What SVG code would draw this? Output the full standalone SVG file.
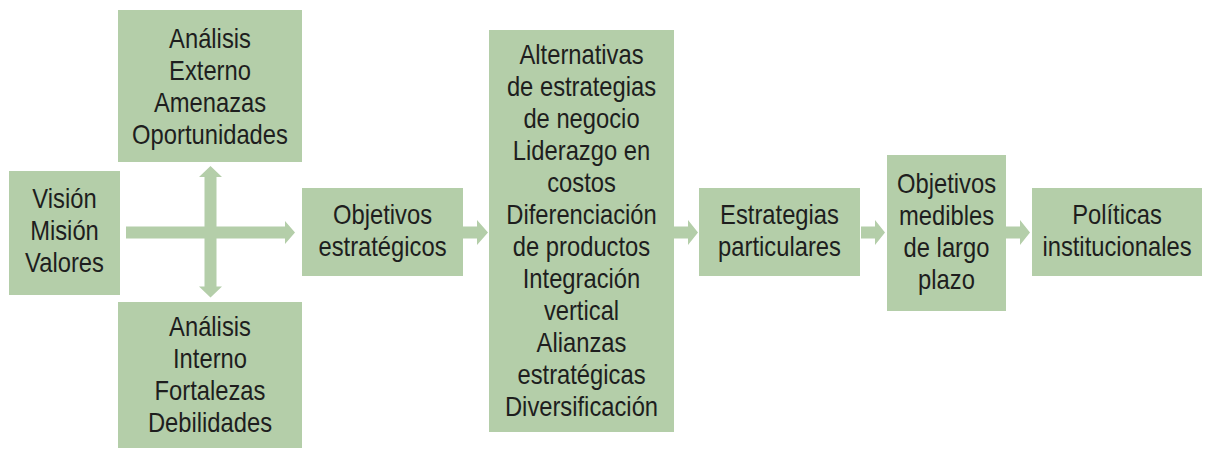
<svg xmlns="http://www.w3.org/2000/svg" width="1211" height="449" viewBox="0 0 1211 449">
<style>
.box{fill:#b4cea9;}
.arr{fill:#b4cea9;}
.t{font-family:"Liberation Sans",Arial,sans-serif;font-size:27px;fill:#1e1e1e;text-anchor:middle;}
</style>
<rect width="1211" height="449" fill="#ffffff"/>
<g id="connectors">
<polygon class="arr" points="126,226.5 285,226.5 285,221 295,232.5 285,244 285,238.5 126,238.5"/>
<polygon class="arr" points="204.5,177 199,177 210.5,166 222,177 216.5,177 216.5,286.5 222,286.5 210.5,297.5 199,286.5 204.5,286.5"/>
<polygon class="arr" points="463,226.5 477,226.5 477,220 488,232.5 477,245 477,238.5 463,238.5"/>
<polygon class="arr" points="674,226.5 688,226.5 688,220 698,232.5 688,245 688,238.5 674,238.5"/>
<polygon class="arr" points="861,226.5 875,226.5 875,220 885,232.5 875,245 875,238.5 861,238.5"/>
<polygon class="arr" points="1006,226.5 1020,226.5 1020,220 1030,232.5 1020,245 1020,238.5 1006,238.5"/>
</g>
<g id="vision">
<rect class="box" x="9" y="171" width="111" height="124"/>
<text class="t" transform="translate(64.5 0) scale(0.88 1)"><tspan x="0" y="208.5">Visión</tspan><tspan x="0" y="240.5">Misión</tspan><tspan x="0" y="272.5">Valores</tspan></text>
</g>
<g id="externo">
<rect class="box" x="118" y="10" width="184" height="152"/>
<text class="t" transform="translate(210 0) scale(0.88 1)"><tspan x="0" y="48">Análisis</tspan><tspan x="0" y="80">Externo</tspan><tspan x="0" y="112">Amenazas</tspan><tspan x="0" y="144">Oportunidades</tspan></text>
</g>
<g id="interno">
<rect class="box" x="118" y="302" width="184" height="146"/>
<text class="t" transform="translate(210 0) scale(0.88 1)"><tspan x="0" y="336">Análisis</tspan><tspan x="0" y="368">Interno</tspan><tspan x="0" y="400">Fortalezas</tspan><tspan x="0" y="432">Debilidades</tspan></text>
</g>
<g id="objetivos">
<rect class="box" x="302" y="188" width="161" height="88"/>
<text class="t" transform="translate(382.5 0) scale(0.88 1)"><tspan x="0" y="224.5">Objetivos</tspan><tspan x="0" y="256.5">estratégicos</tspan></text>
</g>
<g id="alternativas">
<rect class="box" x="489" y="30" width="185" height="402"/>
<text class="t" transform="translate(581.5 0) scale(0.88 1)"><tspan x="0" y="64">Alternativas</tspan><tspan x="0" y="96">de estrategias</tspan><tspan x="0" y="128">de negocio</tspan><tspan x="0" y="160">Liderazgo en</tspan><tspan x="0" y="192">costos</tspan><tspan x="0" y="224">Diferenciación</tspan><tspan x="0" y="256">de productos</tspan><tspan x="0" y="288">Integración</tspan><tspan x="0" y="320">vertical</tspan><tspan x="0" y="352">Alianzas</tspan><tspan x="0" y="384">estratégicas</tspan><tspan x="0" y="416">Diversificación</tspan></text>
</g>
<g id="estrategias">
<rect class="box" x="699" y="188" width="161" height="88"/>
<text class="t" transform="translate(779.5 0) scale(0.88 1)"><tspan x="0" y="224.5">Estrategias</tspan><tspan x="0" y="256.5">particulares</tspan></text>
</g>
<g id="medibles">
<rect class="box" x="887" y="155" width="119" height="156"/>
<text class="t" transform="translate(946.5 0) scale(0.88 1)"><tspan x="0" y="193.5">Objetivos</tspan><tspan x="0" y="225.5">medibles</tspan><tspan x="0" y="257.5">de largo</tspan><tspan x="0" y="289.5">plazo</tspan></text>
</g>
<g id="politicas">
<rect class="box" x="1032" y="188" width="170" height="88"/>
<text class="t" transform="translate(1117 0) scale(0.88 1)"><tspan x="0" y="224.5">Políticas</tspan><tspan x="0" y="256.5">institucionales</tspan></text>
</g>
</svg>
